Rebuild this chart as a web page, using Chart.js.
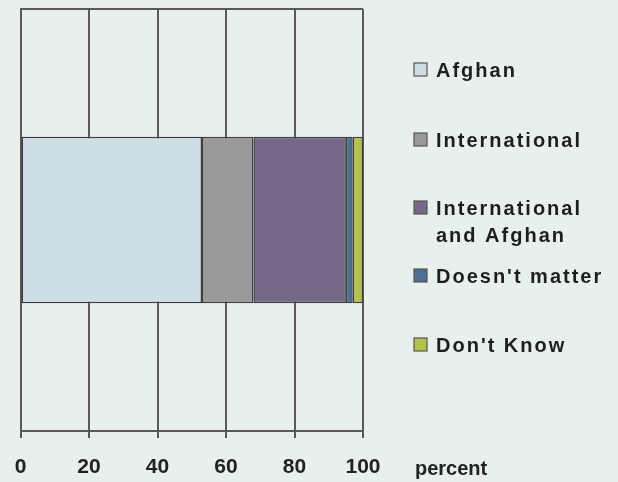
<!DOCTYPE html>
<html>
<head>
<meta charset="utf-8">
<script src="https://cdn.jsdelivr.net/npm/chart.js@4/dist/chart.umd.min.js"></script>
<style>
  html, body { margin: 0; padding: 0; background: #e8f0ee; }
  #wrap { position: relative; width: 618px; height: 482px; }
</style>
</head>
<body>
<div id="wrap"><canvas id="c" width="618" height="482"></canvas></div>
<script>
// Who should provide security: share of answers, in percent
const categories = [''];
const seriesNames = ['Afghan', 'International', 'International and Afghan', "Doesn't matter", "Don't Know"];
const legendLines = [['Afghan'], ['International'], ['International', 'and Afghan'], ["Doesn't matter"], ["Don't Know"]];
const afghan = [53];
const international = [15];
const internationalAndAfghan = [27];
const doesntMatter = [2];
const dontKnow = [3];
const tickValues = [0, 20, 40, 60, 80, 100];
const axisUnit = 'percent';

const seriesValues = [afghan, international, internationalAndAfghan, doesntMatter, dontKnow];
const seriesColors = ['#cfdde7', '#999999', '#776889', '#4b6e93', '#b3c34a'];

// Legend drawn at the right of the plot, one entry per series
const sideLegend = {
  id: 'sideLegend',
  afterDraw(chart, args, opts) {
    const ctx = chart.ctx;
    ctx.save();
    ctx.font = 'bold 20px "Liberation Sans", Arial, sans-serif';
    ctx.letterSpacing = '2px';
    ctx.textBaseline = 'alphabetic';
    chart.data.datasets.forEach((ds, i) => {
      const base = opts.baselines[i];
      ctx.fillStyle = ds.backgroundColor;
      ctx.fillRect(opts.boxX, base - 14, 13, 13);
      ctx.strokeStyle = '#555';
      ctx.lineWidth = 1.2;
      ctx.strokeRect(opts.boxX, base - 14, 13, 13);
      ctx.fillStyle = '#1e1e1e';
      legendLines[i].forEach((line, j) => {
        ctx.fillText(line, opts.textX, base + j * opts.lineGap);
      });
    });
    ctx.letterSpacing = '0px';
    ctx.fillStyle = '#222';
    ctx.fillText(axisUnit, opts.unitX, opts.unitY);
    ctx.restore();
  }
};

new Chart(document.getElementById('c'), {
  type: 'bar',
  data: {
    labels: categories,
    datasets: seriesNames.map((name, i) => ({
      label: name,
      data: seriesValues[i],
      backgroundColor: seriesColors[i],
      borderColor: '#3d3d3d',
      borderWidth: 1.5,
      borderSkipped: false,
      barPercentage: 0.395,
      categoryPercentage: 1
    }))
  },
  options: {
    indexAxis: 'y',
    responsive: false,
    animation: false,
    events: [],
    layout: { padding: { left: 20.5, right: 255, top: 9, bottom: 0 } },
    plugins: {
      legend: { display: false },
      tooltip: { enabled: false },
      sideLegend: {
        boxX: 414, textX: 436, lineGap: 27,
        baselines: [77, 147, 215, 283, 352],
        unitX: 415, unitY: 475
      }
    },
    scales: {
      x: {
        stacked: true,
        min: 0, max: 100,
        afterBuildTicks: (s) => { s.ticks = tickValues.map(v => ({ value: v })); },
        afterFit: (s) => { s.height = 51; s.paddingLeft = 0; s.paddingRight = 0; },
        grid: { color: '#5a5a5a', lineWidth: 2, tickLength: 7, tickColor: '#5a5a5a' },
        border: { color: '#5a5a5a', width: 2 },
        ticks: {
          color: '#222',
          padding: 17,
          maxRotation: 0,
          font: { family: '"Liberation Sans", Arial, sans-serif', size: 21, weight: 'bold' }
        }
      },
      y: {
        stacked: true,
        afterFit: (s) => { s.width = 0; },
        grid: { color: '#5a5a5a', lineWidth: 2, drawTicks: false, offset: true },
        border: { color: '#5a5a5a', width: 2 },
        ticks: { display: false }
      }
    }
  },
  plugins: [sideLegend]
});
</script>
</body>
</html>
